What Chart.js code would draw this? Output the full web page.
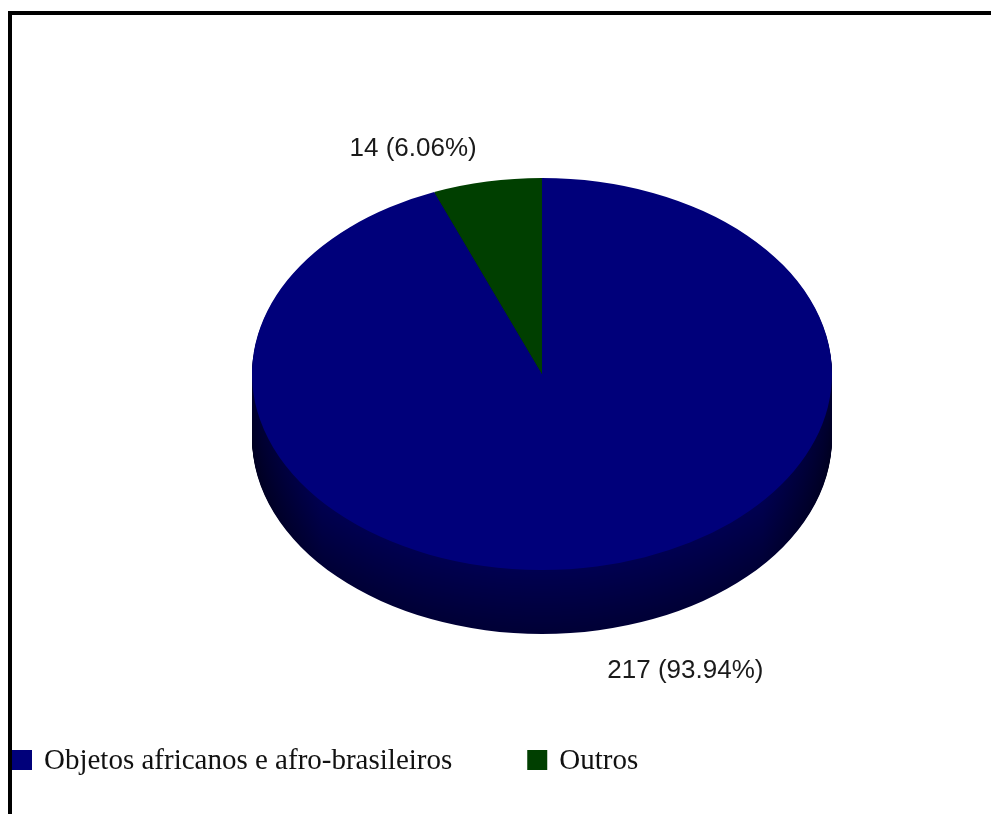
<!DOCTYPE html>
<html>
<head>
<meta charset="utf-8">
<title>Objetos</title>
<script src="https://cdn.jsdelivr.net/npm/chart.js@4.4.0/dist/chart.umd.min.js"></script>
<style>
  html, body { margin: 0; padding: 0; background: #fff; overflow: hidden; }
  #frame { position: absolute; left: 8px; top: 11px; width: 1100px; height: 1000px; border: 4px solid #000; }
  #chart { position: absolute; left: 0; top: 0; }
</style>
</head>
<body>
<div id="frame"></div>
<canvas id="chart" width="991" height="814"></canvas>
<script>
// data
const categories = ['Objetos africanos e afro-brasileiros', 'Outros'];
const counts = [217, 14];
const sliceColors = ['#00007a', '#003f00'];

function shade(hex, f) {
    const n = parseInt(hex.slice(1), 16);
    const r = Math.round(((n >> 16) & 255) * f);
    const g = Math.round(((n >> 8) & 255) * f);
    const b = Math.round((n & 255) * f);
    return `rgb(${r},${g},${b})`;
}

// squash the pie into an ellipse and give it a side wall
const pie3d = {
    id: 'pie3d',
    beforeDatasetsDraw(chart, args, opts) {
        const ctx = chart.ctx;
        const meta = chart.getDatasetMeta(0);
        const cx = meta.data[0].x, cy = meta.data[0].y;
        const k = opts.tilt;
        ctx.save();
        ctx.translate(0, cy);
        ctx.scale(1, k);
        ctx.translate(0, -cy);
        for (let d = opts.depth; d >= 1; d--) {
            const t = d / opts.depth;
            const f = 0.66 - 0.22 * t;
            meta.data.forEach((arc, i) => {
                const R = arc.outerRadius;
                const g = ctx.createLinearGradient(cx - R, 0, cx + R, 0);
                g.addColorStop(0, shade(sliceColors[i], f * 0.6));
                g.addColorStop(0.12, shade(sliceColors[i], f));
                g.addColorStop(0.88, shade(sliceColors[i], f));
                g.addColorStop(1, shade(sliceColors[i], f * 0.6));
                ctx.beginPath();
                ctx.moveTo(cx, cy + d / k);
                ctx.arc(cx, cy + d / k, R, arc.startAngle, arc.endAngle);
                ctx.closePath();
                ctx.fillStyle = g;
                ctx.fill();
            });
        }
    },
    afterDatasetsDraw(chart, args, opts) {
        const ctx = chart.ctx;
        ctx.restore();

        // value labels
        const meta = chart.getDatasetMeta(0);
        const cx = meta.data[0].x, cy = meta.data[0].y;
        const total = counts.reduce((a, b) => a + b, 0);
        ctx.save();
        ctx.font = '26px "Liberation Sans", Arial, sans-serif';
        ctx.fillStyle = '#1a1a1a';
        ctx.textBaseline = 'middle';
        meta.data.forEach((arc, i) => {
            const mid = (arc.startAngle + arc.endAngle) / 2;
            const r = arc.outerRadius * opts.labelRadius;
            const c = Math.cos(mid), s = Math.sin(mid);
            const x = cx + c * r;
            const y = cy + s * r * opts.tilt + (s > 0 ? opts.depth : 0) + 4;
            ctx.textAlign = c < 0 ? 'right' : 'left';
            ctx.fillText(counts[i] + ' (' + (counts[i] / total * 100).toFixed(2) + '%)', x, y);
        });
        ctx.restore();
    },
    afterDraw(chart) {
        // legend along the bottom
        const ctx = chart.ctx;
        ctx.save();
        ctx.font = '29px "Liberation Serif", "Times New Roman", serif';
        ctx.textBaseline = 'middle';
        ctx.textAlign = 'left';
        let x = 12;
        const y = 760;
        categories.forEach((name, i) => {
            ctx.fillStyle = sliceColors[i];
            ctx.fillRect(x, y - 10, 20, 20);
            ctx.fillStyle = '#111';
            ctx.fillText(name, x + 32, y + 1);
            x += 32 + ctx.measureText(name).width + 75;
        });
        ctx.restore();
    }
};

new Chart(document.getElementById('chart'), {
    type: 'pie',
    data: {
        labels: categories,
        datasets: [{
            data: counts,
            backgroundColor: sliceColors,
            borderWidth: 0,
            hoverOffset: 0,
            clip: false
        }]
    },
    options: {
        responsive: false,
        animation: false,
        layout: { padding: { left: 252, right: 159, top: 84, bottom: 150 } },
        plugins: {
            legend: { display: false },
            tooltip: { enabled: false },
            pie3d: { tilt: 0.676, depth: 64, labelRadius: 1.19 }
        }
    },
    plugins: [pie3d]
});
</script>
</body>
</html>
